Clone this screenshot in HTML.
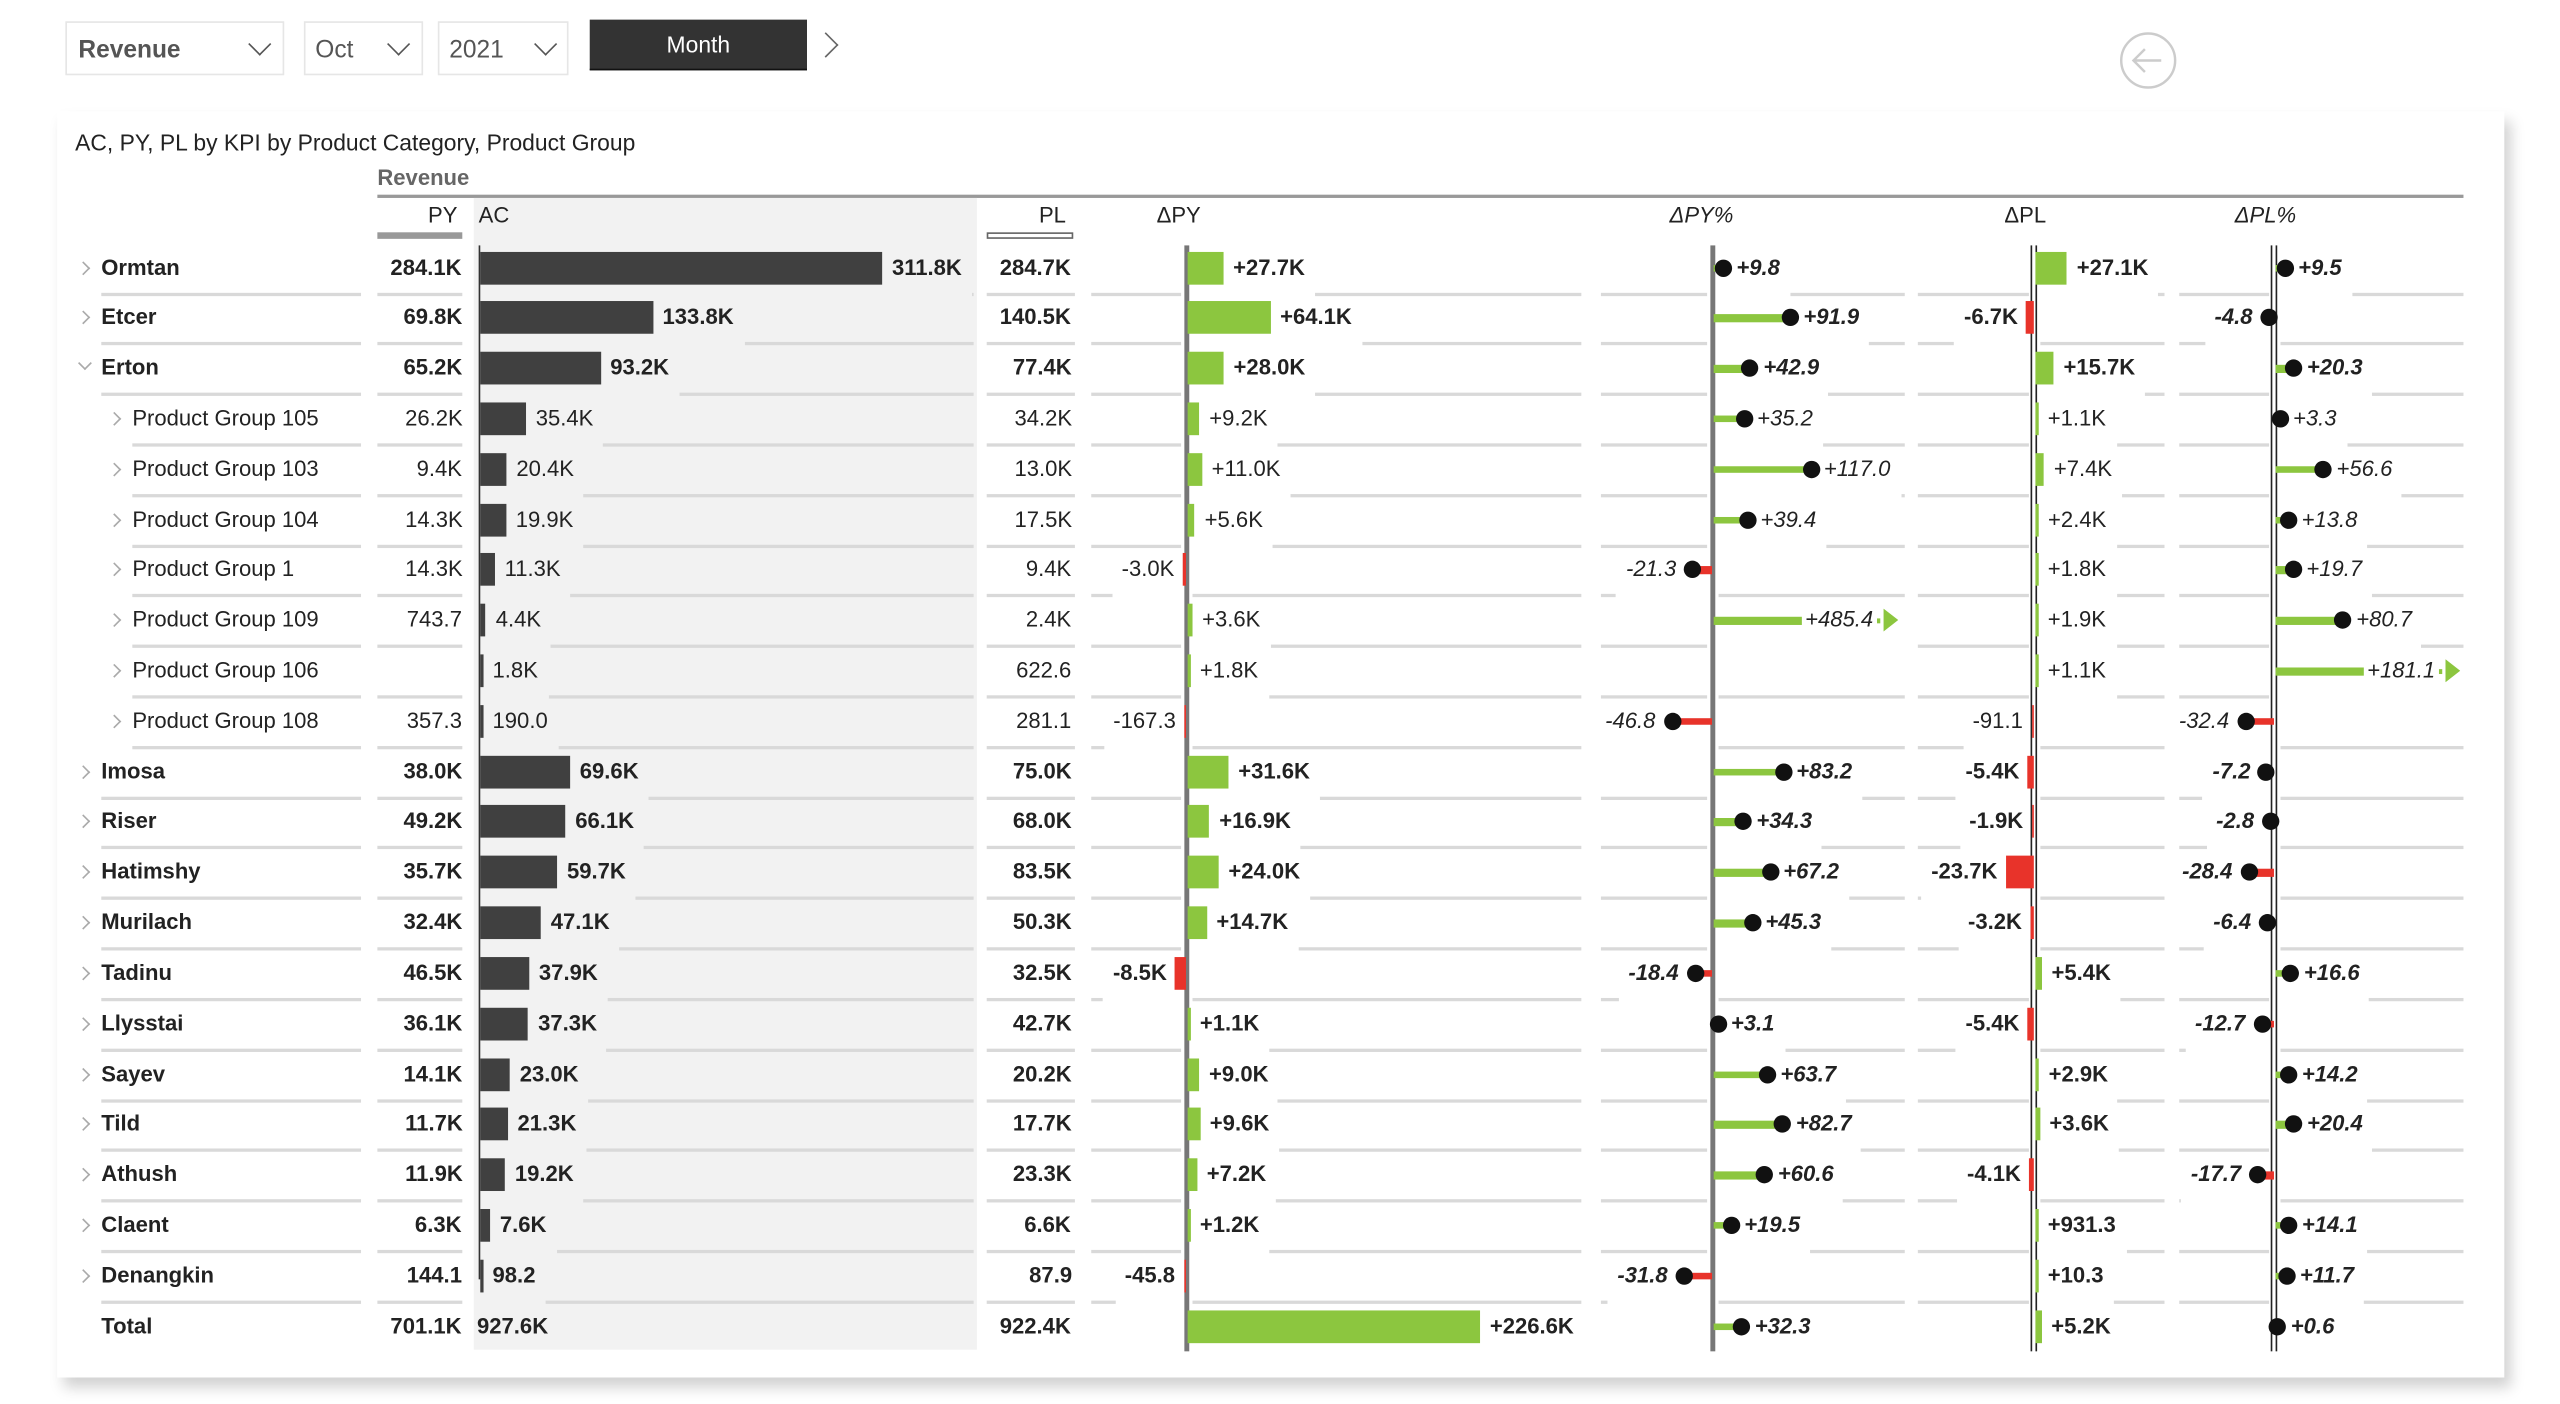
<!DOCTYPE html>
<html><head><meta charset="utf-8">
<style>
html,body{margin:0;padding:0;background:#fff;overflow:hidden}
body{width:2560px;height:1404px;position:relative}
#w{position:absolute;left:0;top:0;width:1547px;height:848px;transform:scale(1.6336,1.6360);transform-origin:0 0;font-family:"Liberation Sans",sans-serif;color:#222}
.a{position:absolute}
.t{position:absolute;white-space:nowrap;font-size:13.5px;line-height:16px}
.b{font-weight:bold}
.i{font-style:italic}
.dd{position:absolute;border:1px solid #e6e6e6;background:#fff;top:13px;height:31px;font-size:15px;color:#555}
.chev{position:absolute;width:7px;height:7px;border-right:1px solid #555;border-bottom:1px solid #555;transform:rotate(45deg)}
.sep{position:absolute;height:2px;background:#d9d9d9}
</style></head><body><div id="w">
<div class="dd" style="left:40px;width:132px"><span class="a b" style="left:7px;top:8px">Revenue</span><span class="chev" style="left:113px;top:8px;width:9px;height:9px"></span></div>
<div class="dd" style="left:186px;width:71px"><span class="a" style="left:6px;top:8px">Oct</span><span class="chev" style="left:52px;top:8px;width:9px;height:9px"></span></div>
<div class="dd" style="left:268px;width:78px"><span class="a" style="left:6px;top:8px">2021</span><span class="chev" style="left:60px;top:8px;width:9px;height:9px"></span></div>
<div class="a" style="left:361px;top:12px;width:133px;height:30px;background:#333;color:#fff;font-size:14px;text-align:center;line-height:31px;border-bottom:1px solid #111">Month</div>
<div class="a" style="left:500px;top:22px;width:10px;height:10px;border-right:1.5px solid #666;border-top:1.5px solid #666;transform:rotate(45deg)"></div>
<svg class="a" style="left:1296px;top:19px" width="38" height="38"><circle cx="19" cy="18" r="16.5" fill="none" stroke="#ccc" stroke-width="1.5"/><path d="M27 18H10M17 11l-7 7 7 7" fill="none" stroke="#ccc" stroke-width="1.5"/></svg>
<div class="a" style="left:35px;top:68px;width:1498px;height:774px;background:#fff;box-shadow:4px 6px 8px rgba(0,0,0,0.18)"></div>
<div class="t" style="left:46px;top:79px;font-size:14px">AC, PY, PL by KPI by Product Category, Product Group</div>
<div class="t b" style="left:231px;top:101px;color:#666;font-size:13.5px">Revenue</div>
<div class="a" style="left:231px;top:119px;width:1277px;height:1.5px;background:#999"></div>
<div class="a" style="left:290px;top:121px;width:308px;height:704px;background:#f2f2f2"></div>
<div id="c"></div>
</div>
<script>
const c=document.getElementById('c');
function el(h){c.insertAdjacentHTML('beforeend',h);return c.lastElementChild;}
function txt(x,y,s,cls,align){
  const e=el(`<div class="t ${cls||''}" style="top:${y-8}px;left:${x}px">${s}</div>`);
  if(align==='r'){e.style.left=(x-e.offsetWidth)+'px';}
  return e;
}
function rect(x,y,w,h,col){el(`<div class="a" style="left:${x}px;top:${y}px;width:${w}px;height:${h}px;background:${col}"></div>`);}
function sep(x1,x2,y){if(x2>x1)el(`<div class="sep" style="left:${x1}px;top:${y}px;width:${x2-x1}px"></div>`);}
txt(280,132,'PY','', 'r');txt(293,132,'AC');txt(653,132,'PL','','r');txt(708,132,'ΔPY');
txt(1022,132,'ΔPY%','i');txt(1227,132,'ΔPL');txt(1368,132,'ΔPL%','i');
rect(231,142,52,4,'#999');
el(`<div class="a" style="left:604px;top:142px;width:51px;height:2px;border:1.5px solid #666;background:#fff"></div>`);
const G='#8cc63f',R='#e8332a';
const D=[
['Ormtan',0,'284.1K',311.8,'311.8K','284.7K',27.7,'+27.7K',9.8,'+9.8',27.1,'+27.1K',9.5,'+9.5','r'],
['Etcer',0,'69.8K',133.8,'133.8K','140.5K',64.1,'+64.1K',91.9,'+91.9',-6.7,'-6.7K',-4.8,'-4.8','r'],
['Erton',0,'65.2K',93.2,'93.2K','77.4K',28.0,'+28.0K',42.9,'+42.9',15.7,'+15.7K',20.3,'+20.3','d'],
['Product Group 105',1,'26.2K',35.4,'35.4K','34.2K',9.2,'+9.2K',35.2,'+35.2',1.1,'+1.1K',3.3,'+3.3'],
['Product Group 103',1,'9.4K',20.4,'20.4K','13.0K',11.0,'+11.0K',117.0,'+117.0',7.4,'+7.4K',56.6,'+56.6'],
['Product Group 104',1,'14.3K',19.9,'19.9K','17.5K',5.6,'+5.6K',39.4,'+39.4',2.4,'+2.4K',13.8,'+13.8'],
['Product Group 1',1,'14.3K',11.3,'11.3K','9.4K',-3.0,'-3.0K',-21.3,'-21.3',1.8,'+1.8K',19.7,'+19.7'],
['Product Group 109',1,'743.7',4.4,'4.4K','2.4K',3.6,'+3.6K',485.4,'+485.4',1.9,'+1.9K',80.7,'+80.7'],
['Product Group 106',1,'',1.8,'1.8K','622.6',1.8,'+1.8K',null,'',1.1,'+1.1K',181.1,'+181.1'],
['Product Group 108',1,'357.3',0.19,'190.0','281.1',-0.167,'-167.3',-46.8,'-46.8',-0.091,'-91.1',-32.4,'-32.4'],
['Imosa',0,'38.0K',69.6,'69.6K','75.0K',31.6,'+31.6K',83.2,'+83.2',-5.4,'-5.4K',-7.2,'-7.2'],
['Riser',0,'49.2K',66.1,'66.1K','68.0K',16.9,'+16.9K',34.3,'+34.3',-1.9,'-1.9K',-2.8,'-2.8'],
['Hatimshy',0,'35.7K',59.7,'59.7K','83.5K',24.0,'+24.0K',67.2,'+67.2',-23.7,'-23.7K',-28.4,'-28.4'],
['Murilach',0,'32.4K',47.1,'47.1K','50.3K',14.7,'+14.7K',45.3,'+45.3',-3.2,'-3.2K',-6.4,'-6.4'],
['Tadinu',0,'46.5K',37.9,'37.9K','32.5K',-8.5,'-8.5K',-18.4,'-18.4',5.4,'+5.4K',16.6,'+16.6'],
['Llysstai',0,'36.1K',37.3,'37.3K','42.7K',1.1,'+1.1K',3.1,'+3.1',-5.4,'-5.4K',-12.7,'-12.7'],
['Sayev',0,'14.1K',23.0,'23.0K','20.2K',9.0,'+9.0K',63.7,'+63.7',2.9,'+2.9K',14.2,'+14.2'],
['Tild',0,'11.7K',21.3,'21.3K','17.7K',9.6,'+9.6K',82.7,'+82.7',3.6,'+3.6K',20.4,'+20.4'],
['Athush',0,'11.9K',19.2,'19.2K','23.3K',7.2,'+7.2K',60.6,'+60.6',-4.1,'-4.1K',-17.7,'-17.7'],
['Claent',0,'6.3K',7.6,'7.6K','6.6K',1.2,'+1.2K',19.5,'+19.5',0.93,'+931.3',14.1,'+14.1'],
['Denangkin',0,'144.1',0.098,'98.2','87.9',-0.046,'-45.8',-31.8,'-31.8',0.01,'+10.3',11.7,'+11.7'],
['Total',2,'701.1K',null,'927.6K','922.4K',226.6,'+226.6K',32.3,'+32.3',5.2,'+5.2K',0.6,'+0.6']
];
const Y0=163.5,ST=30.81;
const AX={py:726,pyp:1048,pl:1245,plp:1392};
rect(292.5,150,1.5,632,'#333');
rect(AX.py-1,150,2.5,676,'#777');
rect(AX.pyp-1,150,2.5,676,'#777');
rect(AX.pl-2,150,1.3,676,'#222');rect(AX.pl+0.7,150,1.3,676,'#222');
rect(AX.plp-2,150,1.3,676,'#222');rect(AX.plp+0.7,150,1.3,676,'#222');
function barCol(ax,v,k,s,cls,y,segL,segR){
  const w=Math.max(Math.abs(v)*k,1.5);let end;
  if(v>=0){rect(ax+1,y-10,w,20,G);const e=txt(ax+w+7,y,s,cls);end=ax+w+7+e.offsetWidth+6;sep(end,segR,y+15);sep(segL,ax-3,y+15);}
  else{rect(ax-w,y-10,w,20,R);const e=txt(ax-w-5,y,s,cls,'r');sep(segL,ax-w-5-e.offsetWidth-6,y+15);sep(ax+4,segR,y+15);}
}
function pin(ax,v,s,cls,y,segL,segR,max){
  if(v===null){sep(segL,ax-3,y+15);sep(ax+4,segR,y+15);return;}
  let len=Math.abs(v)*0.5;
  const col=v>=0?G:R;
  if(v>=0){
    const e=txt(0,y,s,cls);const tw=e.offsetWidth;
    const arrow=(len+tw+12>max);
    if(arrow){
      len=max-tw-20;
      rect(ax+1,y-2,len,4.5,col);
      const x=ax+1+len;e.style.left=(x+2)+'px';
      const ax2=x+2+tw+2;rect(ax2,y-1,2,3,col);
      el(`<svg class="a" style="left:${ax2+4}px;top:${y-7}px" width="9" height="14"><path d="M0 0L9 7L0 14Z" fill="${col}"/></svg>`);
    } else {
      rect(ax+1,y-2,len,4.5,col);
      const x=ax+1+len;
      el(`<svg class="a" style="left:${x-5}px;top:${y-6}px" width="12" height="12"><circle cx="6" cy="6" r="5.3" fill="#111"/></svg>`);
      e.style.left=(x+9)+'px';sep(x+9+tw+6,segR,y+15);
    }
    sep(segL,ax-3,y+15);
  }else{
    rect(ax-len,y-2,len,4.5,col);const x=ax-len;
    el(`<svg class="a" style="left:${x-7}px;top:${y-6}px" width="12" height="12"><circle cx="6" cy="6" r="5.3" fill="#111"/></svg>`);
    const e=txt(x-11,y,s,cls,'r');sep(segL,x-11-e.offsetWidth-6,y+15);sep(ax+4,segR,y+15);
  }
}
D.forEach((r,i)=>{
  const y=Math.round((Y0+i*ST)*10)/10;const lv=r[1];const last=lv===2;
  const b=lv!==1?'b':'';const bi=lv!==1?'b i':'i';
  const nx=lv===1?81:62;
  txt(nx,y,r[0],b);
  if(lv!==2){
    if(r[14]==='d')el(`<div class="chev" style="left:${nx-13}px;top:${y-6}px;width:5px;height:5px;border-color:#aaa"></div>`);
    else el(`<div class="chev" style="left:${nx-14}px;top:${y-3}px;width:5px;height:5px;border-color:#aaa;transform:rotate(-45deg)"></div>`);
  }
  txt(283,y,r[2],b,'r');
  const yy=y+15;
  if(!last){sep(nx,221,yy);sep(231,283,yy);sep(604,658,yy);}
  if(r[3]!==null){const w=Math.max(r[3]*0.789,1.5);rect(294,y-10,w,20,'#404040');const e=txt(294+w+6,y,r[4],b);if(!last)sep(294+w+6+e.offsetWidth+6,596,yy);}
  else{txt(292,y,r[4],b);}
  txt(656,y,r[5],b,'r');
  const L=last?99999:0;
  barCol(AX.py,r[6],0.79,r[7],b,y,last?L:668,last?0:968);
  pin(AX.pyp,r[8],r[9],bi,y,last?L:980,last?0:1166,116);
  barCol(AX.pl,r[10],0.71,r[11],b,y,last?L:1174,last?0:1325);
  pin(AX.plp,r[12],r[13],bi,y,last?L:1334,last?0:1508,116);
});
</script>
</body></html>
